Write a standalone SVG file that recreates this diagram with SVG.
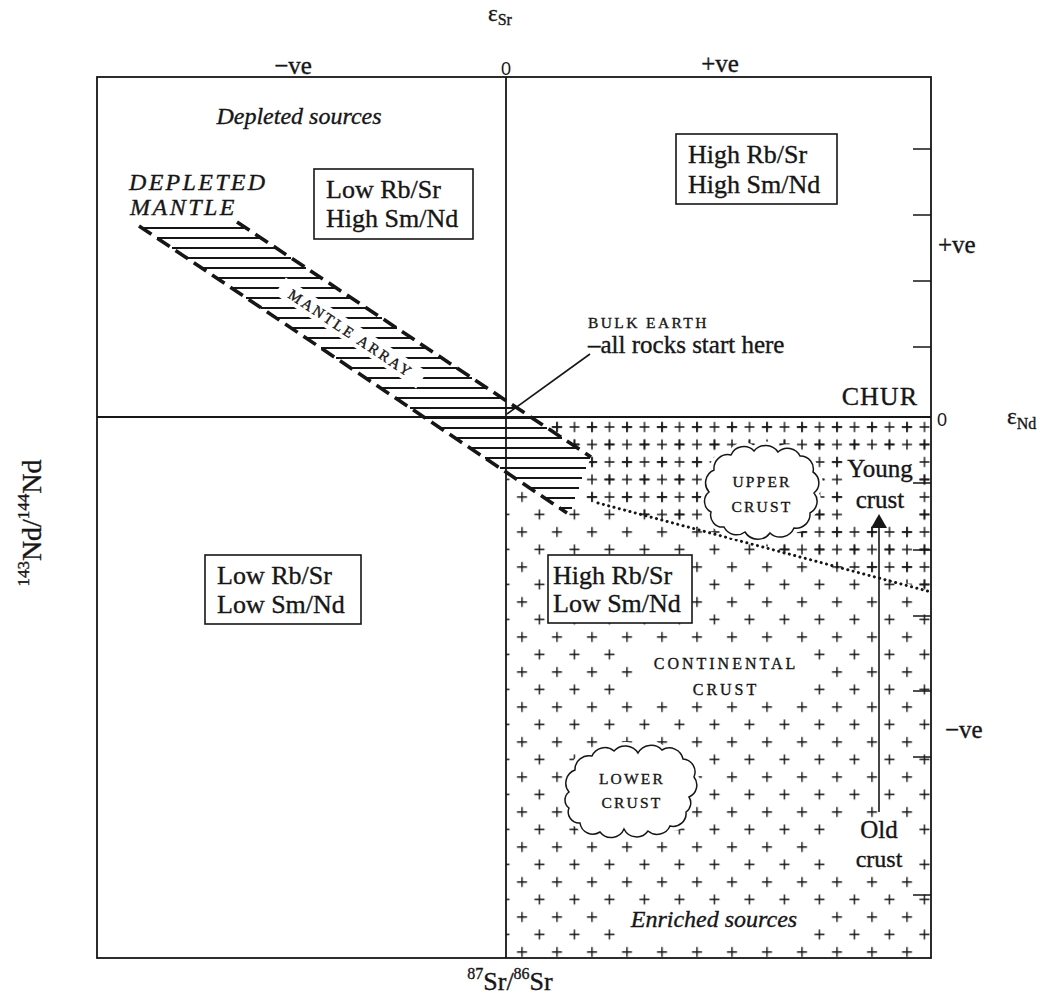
<svg xmlns="http://www.w3.org/2000/svg" width="1043" height="997" viewBox="0 0 1043 997">
<style>
 .s{font-family:"Liberation Serif","Times New Roman",serif;fill:#161616;stroke:#161616;stroke-width:0.35}
 .l{font-size:26px}
 .it{font-style:italic}
 .sc{font-size:15.5px;letter-spacing:2.2px}
 .z{font-family:"Liberation Sans",Arial,sans-serif;font-size:18px;fill:#161616}
 .ax{stroke:#161616;stroke-width:1.8;fill:none}
 .box{fill:#fff;stroke:#161616;stroke-width:1.6}
 .tick{stroke:#161616;stroke-width:1.6;fill:none}
 .hatch{stroke:#161616;stroke-width:2.2;fill:none}
 .edge{stroke:#161616;stroke-width:3.6;stroke-dasharray:15 7;fill:none}
 .mask{fill:#fff;stroke:none}
 .cloud{fill:#fff;stroke:#161616;stroke-width:1.5}
 .pad{fill:#fff;stroke:#fff;stroke-width:8}
 .plus{stroke:#161616;stroke-width:1.4;fill:none}
 .con{stroke:#161616;stroke-width:1.6;fill:none}
</style>
<defs>
 <pattern id="sp" x="513.25" y="418.25" width="35" height="35" patternUnits="userSpaceOnUse">
  <path class="plus" d="M3.75,8.75h10M8.75,3.75v10M21.25,26.25h10M26.25,21.25v10"/>
 </pattern>
 <pattern id="dp" x="513.25" y="418.25" width="17.5" height="17.5" patternUnits="userSpaceOnUse">
  <path class="plus" d="M3.75,8.75h10M8.75,3.75v10"/>
 </pattern>
 <clipPath id="denseClip">
  <polygon points="550,418 931,418 931,590 598,502 584,502 584,452 568,452 568,436 550,436"/>
 </clipPath>
</defs>
<rect x="0" y="0" width="1043" height="997" fill="#fff"/>

<g id="crust-fill">
 <rect x="506" y="418" width="425" height="540" fill="url(#sp)"/>
 <rect x="506" y="418" width="425" height="540" fill="url(#dp)" clip-path="url(#denseClip)"/>
 <polygon class="mask" points="136,226 237,222 591,457 571,510 566,516"/>
 <rect class="mask" x="636" y="645" width="176" height="52"/>
 <rect class="mask" x="619" y="907" width="193" height="36"/>
 <rect class="mask" x="825" y="820" width="94" height="53"/>
 <rect class="mask" x="843" y="453" width="76" height="71"/>
</g>

<g id="axes">
 <rect class="ax" x="97" y="77" width="834" height="881"/>
 <line class="ax" x1="506" y1="77" x2="506" y2="958"/>
 <line class="ax" x1="97" y1="417" x2="931" y2="417"/>
 <path class="tick" d="M913,149H931M913,215H931M913,281H931M913,347H931M913,483H931M913,550H931M913,616H931M913,691H931M913,757H931M913,895H931"/>
 <text class="s" x="488" y="21" font-size="23">ε<tspan font-size="16" dy="4">Sr</tspan></text>
 <text class="s" x="293" y="74" font-size="25" text-anchor="middle">−ve</text>
 <text class="z" x="506" y="75" text-anchor="middle">0</text>
 <text class="s" x="720" y="72" font-size="25" text-anchor="middle">+ve</text>
 <text class="s" x="938" y="253" font-size="25">+ve</text>
 <text class="z" x="937" y="426">0</text>
 <text class="s" x="1007" y="424" font-size="23">ε<tspan font-size="16" dy="5">Nd</tspan></text>
 <text class="s" x="945" y="738" font-size="25">−ve</text>
 <text class="s" x="510" y="990" font-size="26" text-anchor="middle"><tspan font-size="16" dy="-11">87</tspan><tspan dy="11">Sr/</tspan><tspan font-size="16" dy="-11">86</tspan><tspan dy="11">Sr</tspan></text>
 <text class="s" font-size="28" text-anchor="middle" transform="translate(41,523) rotate(-90)"><tspan font-size="17" dy="-12">143</tspan><tspan dy="12">Nd/</tspan><tspan font-size="17" dy="-12">144</tspan><tspan dy="12">Nd</tspan></text>
 <text class="s l" x="918" y="405" text-anchor="end" letter-spacing="1">CHUR</text>
</g>

<g id="mantle-array">
 <path class="hatch" d="M142,228H246M157,238H261M172,248H276M187,258H291M202,268H306M217,278H321M231,288H336M246,298H351M261,308H367M276,318H382M291,328H397M306,338H412M321,348H427M336,358H442M351,368H457M366,378H472M381,388H487M395,398H502M410,408H517M425,418H532M440,428H547M455,438H562M470,448H577M485,458H590M500,468H586M515,478H582M530,488H579M545,498H575M559,508H572"/>
 <g transform="translate(351,333) rotate(33.7)">
  <rect class="mask" x="-85" y="-10" width="170" height="20"/>
  <text class="s" x="0" y="5.5" font-size="15" letter-spacing="2.5" text-anchor="middle">MANTLE ARRAY</text>
 </g>
 <line class="edge" x1="139" y1="226" x2="567" y2="513"/>
 <line class="edge" x1="237" y1="222" x2="591" y2="457"/>
 <text class="s it" x="129" y="190" font-size="24" letter-spacing="2.3">DEPLETED</text>
 <text class="s it" x="130" y="215" font-size="24" letter-spacing="2.5">MANTLE</text>
</g>

<g id="dotted-boundary">
 <line x1="598" y1="503" x2="931" y2="592" stroke="#161616" stroke-width="3" stroke-linecap="round" stroke-dasharray="0.1 5.4"/>
</g>

<g id="depleted-label">
 <text class="s it" x="299" y="124" font-size="24" text-anchor="middle">Depleted sources</text>
</g>
<g id="enriched-label">
 <text class="s it" x="714" y="927" font-size="24" text-anchor="middle">Enriched sources</text>
</g>

<g id="box-low-rb-high-sm">
 <rect class="box" x="314" y="169" width="159" height="70"/>
 <text class="s l" x="326" y="198">Low Rb/Sr</text>
 <text class="s l" x="326" y="227">High Sm/Nd</text>
</g>
<g id="box-high-rb-high-sm">
 <rect class="box" x="676" y="134" width="161" height="70"/>
 <text class="s l" x="688" y="163">High Rb/Sr</text>
 <text class="s l" x="688" y="193">High Sm/Nd</text>
</g>
<g id="box-low-rb-low-sm">
 <rect class="box" x="205" y="555" width="156" height="69"/>
 <text class="s l" x="217" y="584">Low Rb/Sr</text>
 <text class="s l" x="217" y="613">Low Sm/Nd</text>
</g>
<g id="box-high-rb-low-sm">
 <rect class="box" x="548" y="555" width="144" height="68"/>
 <text class="s l" x="553" y="584">High Rb/Sr</text>
 <text class="s l" x="553" y="612">Low Sm/Nd</text>
</g>

<g id="upper-crust">
 <path class="pad" d="M709,492A14,14 0 0 1 714,470A14,14 0 0 1 731,455A14,14 0 0 1 754,451A15,15 0 0 1 778,452A14,14 0 0 1 800,456A13,13 0 0 1 813,472A13,13 0 0 1 814,493A13,13 0 0 1 810,513A14,14 0 0 1 794,528A15,15 0 0 1 770,533A15,15 0 0 1 745,532A14,14 0 0 1 724,527A12,12 0 0 1 711,512A12,12 0 0 1 709,492Z"/>
 <path class="cloud" d="M709,492A14,14 0 0 1 714,470A14,14 0 0 1 731,455A14,14 0 0 1 754,451A15,15 0 0 1 778,452A14,14 0 0 1 800,456A13,13 0 0 1 813,472A13,13 0 0 1 814,493A13,13 0 0 1 810,513A14,14 0 0 1 794,528A15,15 0 0 1 770,533A15,15 0 0 1 745,532A14,14 0 0 1 724,527A12,12 0 0 1 711,512A12,12 0 0 1 709,492Z"/>
 <text class="s sc" x="762" y="487" text-anchor="middle">UPPER</text>
 <text class="s sc" x="762" y="512" text-anchor="middle">CRUST</text>
</g>

<g id="lower-crust">
 <path class="pad" d="M569,792A14,14 0 0 1 575,770A14,14 0 0 1 592,756A14,14 0 0 1 614,751A15,15 0 0 1 638,753A15,15 0 0 1 662,750A14,14 0 0 1 683,759A13,13 0 0 1 694,777A13,13 0 0 1 689,797A11,11 0 0 1 686,812A13,13 0 0 1 670,826A14,14 0 0 1 648,831A14,14 0 0 1 624,829A14,14 0 0 1 600,832A13,13 0 0 1 580,823A11,11 0 0 1 569,808A10,10 0 0 1 569,792Z"/>
 <path class="cloud" d="M569,792A14,14 0 0 1 575,770A14,14 0 0 1 592,756A14,14 0 0 1 614,751A15,15 0 0 1 638,753A15,15 0 0 1 662,750A14,14 0 0 1 683,759A13,13 0 0 1 694,777A13,13 0 0 1 689,797A11,11 0 0 1 686,812A13,13 0 0 1 670,826A14,14 0 0 1 648,831A14,14 0 0 1 624,829A14,14 0 0 1 600,832A13,13 0 0 1 580,823A11,11 0 0 1 569,808A10,10 0 0 1 569,792Z"/>
 <text class="s sc" x="632" y="784" text-anchor="middle">LOWER</text>
 <text class="s sc" x="632" y="808" text-anchor="middle">CRUST</text>
</g>

<g id="continental-crust">
 <text class="s" x="726" y="669" font-size="16" letter-spacing="3" text-anchor="middle">CONTINENTAL</text>
 <text class="s" x="726" y="695" font-size="16" letter-spacing="3" text-anchor="middle">CRUST</text>
</g>

<g id="bulk-earth">
 <text class="s" x="588" y="328" font-size="15.5" letter-spacing="2.4">BULK EARTH</text>
 <text class="s" x="588" y="353" font-size="25">–all rocks start here</text>
</g>

<g id="young-crust">
 <text class="s" x="880" y="477" font-size="25" text-anchor="middle">Young</text>
 <text class="s" x="880" y="508" font-size="25" text-anchor="middle">crust</text>
</g>
<g id="old-crust">
 <text class="s" x="879" y="838" font-size="25" text-anchor="middle">Old</text>
 <text class="s" x="879" y="867" font-size="24" text-anchor="middle">crust</text>
</g>

<g id="connectors">
 <line class="con" x1="590" y1="354" x2="507" y2="414"/>
 <line class="con" x1="879" y1="812" x2="879" y2="526"/>
 <polygon points="879,514 871,528 887,528" fill="#161616"/>
</g>
</svg>
